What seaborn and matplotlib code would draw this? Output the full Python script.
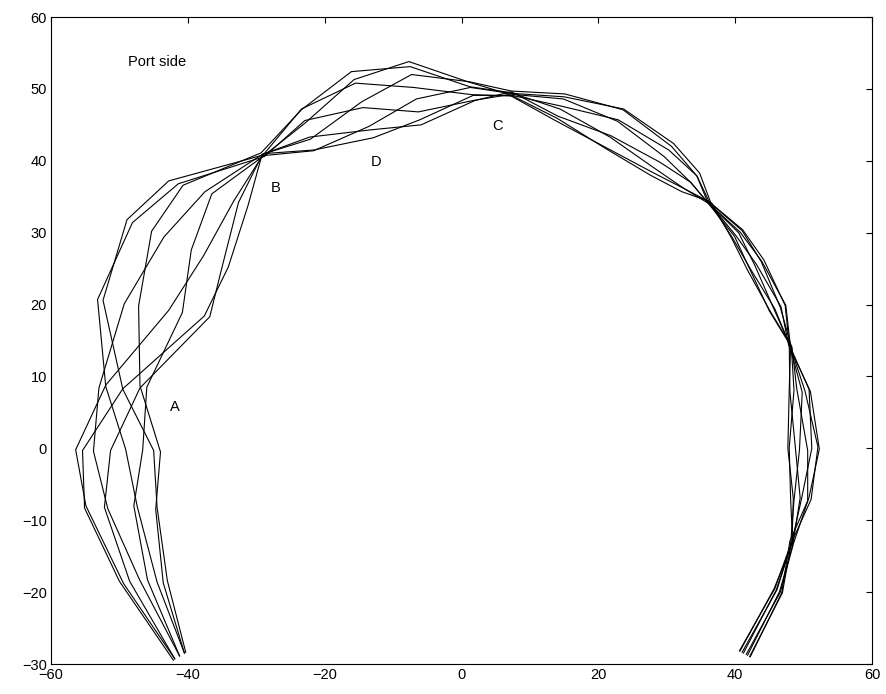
import pandas as pd
import matplotlib
matplotlib.use('Agg')
import matplotlib.pyplot as plt
import seaborn as sns

# vertex coordinates of each deformed contour
# (bottom-left end -> B -> D -> C -> right side -> bottom-right end)
x1 = [-42.1, -50.0, -55.1, -55.4, -49.5, -37.6, -34.1, -31.2, -29.2, -21.6, -13.5, -6.6, 1.3, 7.0, 15.0,
      23.7, 31.0, 34.8, 36.5, 41.0, 43.8, 46.6, 48.2, 48.6, 47.9, 48.1, 48.4, 45.7, 40.7]
y1 = [-29.5, -18.5, -8.3, -0.3, 8.3, 18.4, 25.2, 33.8, 40.7, 41.4, 44.8, 48.6, 50.2, 49.4, 48.9,
      47.2, 42.4, 38.3, 34.0, 30.3, 26.0, 19.6, 14.2, 8.1, 0.1, -6.9, -13.1, -19.5, -28.2]

x2 = [-41.9, -49.4, -54.9, -56.4, -52.0, -42.8, -37.7, -33.3, -28.9, -21.6, -12.9, -6.1, 1.7, 7.4, 14.6,
      22.9, 30.3, 34.4, 36.2, 41.1, 44.2, 47.3, 47.9, 49.8, 49.4, 48.6, 48.1, 45.8, 40.6]
y2 = [-29.3, -18.8, -8.0, -0.2, 8.8, 19.2, 26.8, 34.4, 41.0, 41.5, 43.2, 45.7, 49.1, 49.1, 47.6,
      45.7, 41.5, 37.9, 34.3, 30.4, 26.2, 19.9, 14.5, 7.8, -0.2, -7.2, -13.4, -19.5, -28.2]

x3 = [-41.2, -47.1, -51.7, -53.8, -53.0, -49.3, -43.5, -37.5, -29.1, -22.2, -13.3, -5.9, 2.0, 7.3, 14.1,
      21.8, 29.0, 33.5, 36.0, 40.7, 43.9, 47.4, 48.1, 50.8, 51.2, 49.7, 48.3, 46.1, 41.0]
y3 = [-28.9, -18.2, -8.4, -0.4, 8.4, 20.1, 29.4, 35.7, 40.9, 43.3, 44.3, 45.0, 48.4, 49.6, 46.2,
      43.5, 39.8, 37.0, 34.2, 30.1, 26.0, 19.9, 14.0, 8.2, 0.0, -7.0, -13.0, -19.7, -28.4]

x4 = [-40.5, -44.5, -47.4, -49.1, -52.0, -53.2, -48.1, -41.4, -28.8, -22.9, -14.4, -6.3, 1.8, 6.9, 13.9,
      21.0, 27.9, 32.6, 36.4, 40.1, 43.1, 46.7, 47.8, 51.0, 52.3, 50.8, 48.5, 46.6, 41.6]
y4 = [-28.5, -18.6, -8.1, -0.1, 8.6, 20.7, 31.4, 36.8, 40.6, 45.6, 47.4, 46.8, 48.4, 49.2, 45.5,
      41.9, 38.4, 36.1, 33.9, 29.6, 25.6, 19.7, 14.4, 7.9, -0.1, -6.8, -13.3, -20.0, -28.7]

x5 = [-40.3, -43.0, -44.5, -45.0, -49.5, -52.4, -48.9, -42.8, -29.0, -23.4, -15.5, -7.0, 1.5, 7.5, 14.0,
      20.9, 27.6, 32.2, 36.1, 39.6, 42.2, 45.8, 48.0, 50.2, 52.1, 51.1, 48.2, 46.9, 42.1]
y5 = [-28.4, -18.4, -8.2, -0.3, 8.2, 20.6, 31.8, 37.2, 40.8, 47.2, 50.8, 50.2, 49.2, 49.0, 45.9,
      41.8, 38.0, 35.7, 34.4, 29.3, 25.0, 19.4, 14.3, 8.0, 0.2, -7.1, -13.2, -20.1, -29.0]

x6 = [-40.5, -43.6, -44.7, -44.0, -47.0, -47.2, -45.3, -40.7, -29.3, -23.4, -16.1, -7.5, 1.2, 7.1, 14.4,
      21.7, 28.3, 32.6, 36.6, 39.5, 41.8, 45.1, 48.3, 49.0, 50.6, 50.6, 48.0, 46.8, 42.2]
y6 = [-28.5, -18.7, -8.5, -0.5, 8.7, 19.8, 30.2, 36.6, 41.1, 47.1, 52.4, 53.1, 50.3, 49.5, 47.2,
      43.3, 38.9, 36.1, 34.1, 29.2, 24.8, 19.1, 14.1, 8.3, -0.3, -7.3, -12.9, -20.1, -29.0]

x7 = [-41.2, -45.9, -47.9, -46.6, -46.0, -40.8, -39.5, -36.5, -28.9, -22.8, -15.7, -7.7, 0.9, 6.8, 14.9,
      22.8, 29.6, 33.5, 36.3, 39.9, 42.1, 45.0, 47.9, 48.0, 48.8, 49.5, 48.4, 46.5, 41.8]
y7 = [-28.9, -18.3, -8.0, -0.2, 8.5, 18.9, 27.6, 35.4, 40.7, 45.3, 51.3, 53.8, 51.0, 49.3, 48.6,
      45.5, 40.6, 37.0, 33.8, 29.5, 25.0, 19.1, 14.6, 7.9, 0.1, -6.9, -13.5, -19.9, -28.8]

x8 = [-41.9, -48.5, -52.2, -51.3, -47.0, -36.8, -34.9, -32.6, -29.1, -22.1, -14.6, -7.3, 1.1, 7.3, 15.1,
      23.6, 30.7, 34.4, 36.0, 40.5, 42.9, 45.7, 48.1, 47.9, 47.7, 48.5, 48.3, 46.0, 41.2]
y8 = [-29.3, -18.5, -8.2, -0.3, 8.4, 18.3, 25.6, 34.2, 40.9, 43.0, 48.2, 52.0, 51.0, 49.7, 49.3,
      47.1, 42.0, 37.9, 34.2, 30.0, 25.4, 19.3, 14.2, 8.1, 0.0, -7.0, -13.1, -19.7, -28.5]

# annotation labels
labels = ['Port side', 'A', 'B', 'C', 'D']
label_x = [-48.7, -41.9, -27.1, 5.2, -12.5]
label_y = [53.7, 5.8, 36.2, 44.9, 39.9]

# long table for seaborn
frames = []
for i, (xs, ys) in enumerate([(x1, y1), (x2, y2), (x3, y3), (x4, y4),
                              (x5, y5), (x6, y6), (x7, y7), (x8, y8)]):
    frames.append(pd.DataFrame({'x': xs, 'y': ys, 'curve': i, 'order': range(len(xs))}))
df = pd.concat(frames, ignore_index=True)

sns.set_style('white')
plt.rcParams['font.family'] = ['Liberation Sans', 'DejaVu Sans']

fig = plt.figure(figsize=(8.86, 6.94), dpi=100)
ax = fig.add_axes([0.0576, 0.0432, 0.9266, 0.9323])

sns.lineplot(data=df, x='x', y='y', units='curve', estimator=None, sort=False,
             color='black', linewidth=0.8, ax=ax)

for t, tx, ty in zip(labels, label_x, label_y):
    ax.text(tx, ty, t, fontsize=10.5, ha='left' if t == 'Port side' else 'center',
            va='center', color='black')

ax.set_xlim(-60, 60)
ax.set_ylim(-30, 60)
ax.set_xticks(range(-60, 61, 20))
ax.set_yticks(range(-30, 61, 10))
ax.set_xlabel('')
ax.set_ylabel('')
ax.tick_params(direction='in', length=4, width=0.8, top=True, right=True,
               labelsize=10.5, colors='black', pad=3)
for s in ax.spines.values():
    s.set_visible(True)
    s.set_color('black')
    s.set_linewidth(0.8)

fig.savefig('out.png', dpi=100)
